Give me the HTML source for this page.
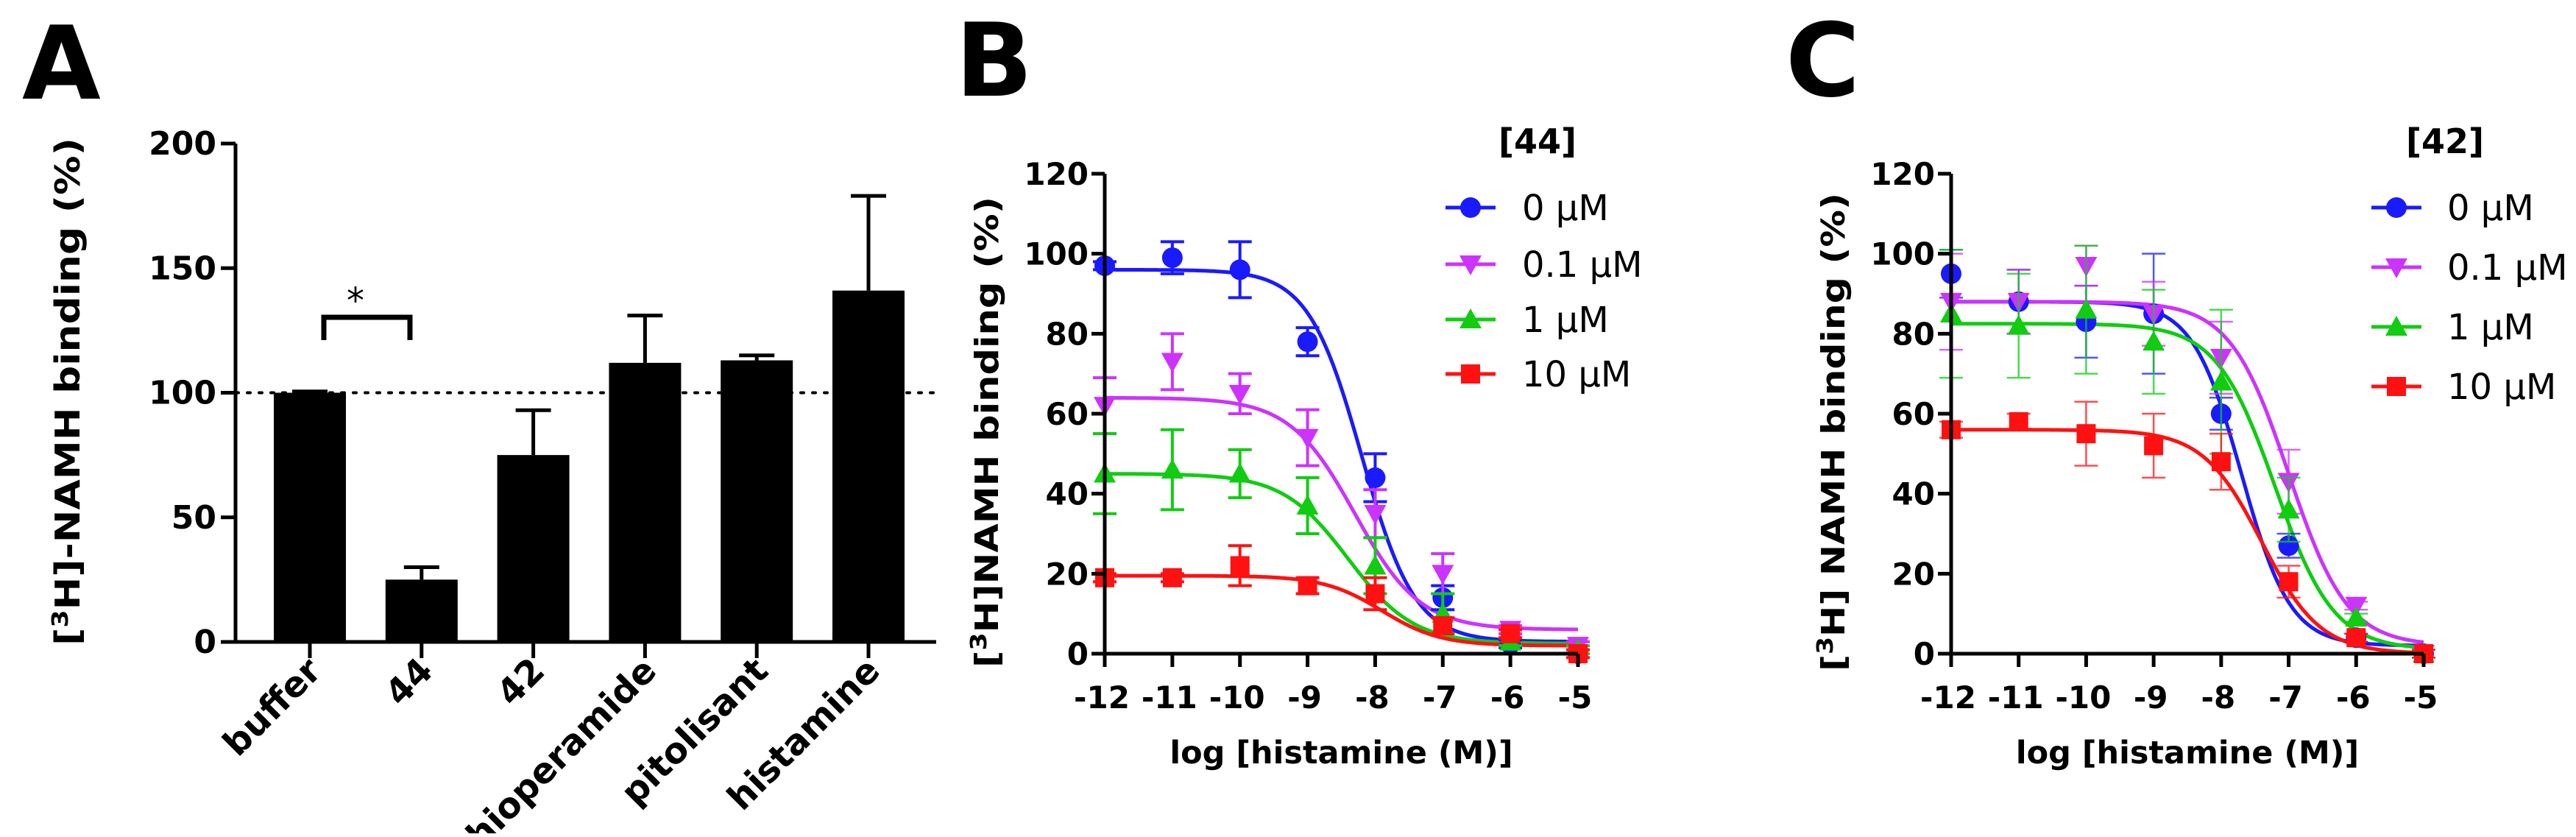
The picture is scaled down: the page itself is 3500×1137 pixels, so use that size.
<!DOCTYPE html>
<html><head><meta charset="utf-8"><style>
html,body{margin:0;padding:0;background:#fff;}
svg text{font-family:"DejaVu Sans","Liberation Sans",sans-serif;}
</style></head><body>
<svg id="fig" width="3500" height="1132" viewBox="0 0 3500 1132" xmlns="http://www.w3.org/2000/svg"></svg>
<script>
// ---------- Panel A data ----------
const barCategories = ["buffer","44","42","thioperamide","pitolisant","histamine"];
const barValues = [100,25,75,112,113,141];
const barErrors = [0.5,5,18,19,2,38];
const barTicks = [0,50,100,150,200];
// ---------- Panel B/C data ----------
const doseX = [-12,-11,-10,-9,-8,-7,-6,-5];
const xTicks = [-12,-11,-10,-9,-8,-7,-6,-5];
const yTicks = [0,20,40,60,80,100,120];
const seriesLabels = ["0 µM","0.1 µM","1 µM","10 µM"];
const B0 = [97,99,96,78,44,14,2.5,0];
const B01 = [62,73,65,54,35,20,6,2];
const B1 = [45,46,45,37,22,10,3,1];
const B10 = [19,19,22,17,15,7,5,0];
const B0err = [1,4,7,3.5,6,3,1,1];
const B01err = [7,7,5,7,6,5,1,1];
const B1err = [10,10,6,7,7,5,1,1];
const B10err = [1,1,5,2,4,2,1,1];
const Bfit0 = [96,3,-8.2,1.1];
const Bfit01 = [64,6,-8.3,0.9];
const Bfit1 = [45,2.5,-8.4,0.9];
const Bfit10 = [19.5,2,-7.9,1];
const C0 = [95,88,83,85,60,27,4,0];
const C01 = [88,88,97,85,74,43,12,0];
const C1 = [85,82,86,78,68,36,9,0];
const C10 = [56,58,55,52,48,18,4,0];
const C0err = [6,8,9,15,4,3,1,1];
const C01err = [12,8,5,8,9,8,1,1];
const C1err = [16,13,16,13,18,8,1,1];
const C10err = [2,2,8,8,7,4,1,1];
const Cfit0 = [88,2,-7.7,1.2];
const Cfit01 = [88,2,-7.0,1];
const Cfit1 = [82.5,1,-7.2,1];
const Cfit10 = [56,0,-7.4,1];

const NS="http://www.w3.org/2000/svg";
const svg=document.getElementById('fig');
function mk(tag,attrs,parent){const e=document.createElementNS(NS,tag);for(const k in attrs)e.setAttribute(k,attrs[k]);(parent||svg).appendChild(e);return e;}
function txt(s,attrs,parent){const e=mk('text',attrs,parent);e.textContent=s;return e;}

let t;
t=txt("A",{x:30,y:134,'font-size':138,'font-weight':'bold'});


t=txt("B",{x:1298,y:130,'font-size':138,'font-weight':'bold'});


t=txt("C",{x:2426,y:130,'font-size':138,'font-weight':'bold'});



// ---------- Panel A ----------
(function(){
  const g=mk('g',{});
  
  
  const x0=320,yb=872,yt=195,xe=1272;
  const ys=v=>yb-(v/200)*(yb-yt);
  const xc=i=>421+i*151.8;
  const dl=mk('line',{x1:x0,x2:xe,y1:ys(100),y2:ys(100),stroke:'#000','stroke-width':4,'stroke-dasharray':'4 12','stroke-linecap':'round'},g);
  
  
  barValues.forEach((v,i)=>{
    const r=mk('rect',{x:xc(i)-49,y:ys(v),width:98,height:yb-ys(v),fill:'#000'},g);
    
    
    const top=ys(v+barErrors[i]);
    const e=mk('path',{d:`M${xc(i)} ${ys(v)} V${top} M${xc(i)-24} ${top} H${xc(i)+24}`,stroke:'#000','stroke-width':5,fill:'none'},g);
    
    
    const tk=mk('line',{x1:xc(i),x2:xc(i),y1:yb,y2:yb+22,stroke:'#000','stroke-width':5},g);
    
    
    const lb=txt(barCategories[i],{x:0,y:0,'font-size':48,'font-weight':'bold','text-anchor':'end',transform:`translate(${xc(i)+18},${yb+42}) rotate(-45)`},g);
    
    
  });
  const ax=mk('path',{d:`M${x0} ${yt} V${yb} M${x0-20} ${yb} H${xe}`,stroke:'#000','stroke-width':5,fill:'none'},g);
  
  
  barTicks.forEach(v=>{
    const l=mk('line',{x1:x0-20,x2:x0,y1:ys(v),y2:ys(v),stroke:'#000','stroke-width':5},g);
    
    
    const tl=txt(String(v),{x:x0-26,y:ys(v)+15,'font-size':44,'font-weight':'bold','text-anchor':'end'},g);
    
    
  });
  const br=mk('path',{d:'M440 462 V431 H557 V462',stroke:'#000','stroke-width':7,fill:'none'},g);
  
  
  const st=txt("*",{x:483,y:425,'font-size':48,'text-anchor':'middle'},g);
  
  
  const yt2=mk('text',{x:0,y:0,'font-size':46,'font-weight':'bold','text-anchor':'middle',transform:'translate(108,532) rotate(-90)',textLength:690,lengthAdjust:'spacingAndGlyphs'},g);
  yt2.innerHTML='[<tspan dy="-16" font-size="30">3</tspan><tspan dy="16">H]-NAMH binding (%)</tspan>';
  
  
})();

// ---------- Dose-response panels ----------
const colors=['#1a1aff','#cc33ff','#11cc11','#ff1111'];
function marker(g,shape,x,y,c){
  let m;
  if(shape===0)m=mk('circle',{cx:x,cy:y,r:14,fill:c},g);
  else if(shape===1)m=mk('polygon',{points:`${x-15},${y-12} ${x+15},${y-12} ${x},${y+15}`,fill:c},g);
  else if(shape===2)m=mk('polygon',{points:`${x-15},${y+12} ${x+15},${y+12} ${x},${y-15}`,fill:c},g);
  else m=mk('rect',{x:x-13,y:y-13,width:26,height:26,fill:c},g);
  return m;
}
function panel(name,ax0,axEnd,title,legX,legTextX,legY,legTitleX,series,errs,fits,ytitle,ytLen,thinErr){
  const g=mk('g',{});
  
  
  const y0=888,y120=236;
  const xs=v=>ax0+(v+12)/7*(axEnd-ax0);
  const ys=v=>y0-v/120*(y0-y120);
  fits.forEach((f,si)=>{
    let d='';
    for(let k=0;k<=280;k++){const x=-12+k*7/280;const y=f[1]+(f[0]-f[1])/(1+Math.pow(10,(x-f[2])*f[3]));d+=(k?'L':'M')+xs(x).toFixed(1)+' '+ys(y).toFixed(1);}
    const p=mk('path',{d:d,stroke:colors[si],'stroke-width':5,fill:'none'},g);
    
    
  });
  series.forEach((s,si)=>{
    s.forEach((v,i)=>{
      const x=xs(doseX[i]),e=errs[si][i];
      const eb=mk('path',{d:`M${x} ${ys(v-e)} V${ys(v+e)} M${x-16} ${ys(v-e)} H${x+16} M${x-16} ${ys(v+e)} H${x+16}`,stroke:colors[si],'stroke-width':thinErr?2.5:4,fill:'none',opacity:thinErr?0.75:1},g);
      
      
      const m=marker(g,si,x,ys(v),colors[si]);
      
      
    });
  });
  const ax=mk('path',{d:`M${ax0} ${y120} V${y0} H${axEnd}`,stroke:'#000','stroke-width':5,fill:'none'},g);
  
  
  yTicks.forEach(v=>{
    const l=mk('line',{x1:ax0-18,x2:ax0,y1:ys(v),y2:ys(v),stroke:'#000','stroke-width':5},g);
    
    
    const tl=txt(String(v),{x:ax0-22,y:ys(v)+15,'font-size':42,'font-weight':'bold','text-anchor':'end'},g);
    
    
  });
  xTicks.forEach(v=>{
    const l=mk('line',{x1:xs(v),x2:xs(v),y1:y0,y2:y0+18,stroke:'#000','stroke-width':5},g);
    
    
    const tl=txt(String(v),{x:xs(v)-4,y:962,'font-size':42,'font-weight':'bold','text-anchor':'middle'},g);
    
    
  });
  const xt=txt('log [histamine (M)]',{x:(ax0+axEnd)/2,y:1037,'font-size':43,'font-weight':'bold','text-anchor':'middle'},g);
  
  
  const yt=mk('text',{x:0,y:0,'font-size':44,'font-weight':'bold','text-anchor':'middle',transform:`translate(${ax0-145},${(y0+y120)/2+25}) rotate(-90)`,textLength:ytLen,lengthAdjust:'spacingAndGlyphs'},g);
  yt.innerHTML='[<tspan dy="-16" font-size="30">3</tspan><tspan dy="16">'+ytitle+'</tspan>';
  
  
  const lt=txt(title,{x:legTitleX,y:208,'font-size':46,'font-weight':'bold','text-anchor':'middle'},g);
  
  
  seriesLabels.forEach((s,si)=>{
    const y=legY[si];
    const lg=mk('g',{},g);
    
    
    mk('line',{x1:legX,x2:legX+68,y1:y,y2:y,stroke:colors[si],'stroke-width':5},lg);
    marker(lg,si,legX+34,y,colors[si]);
    txt(s,{x:legTextX,y:y+17,'font-size':48},lg);
  });
}
panel('panel-b-chart',1501,2144,'[44]',1964,2068,[282,359,434,508],2089,[B0,B01,B1,B10],[B0err,B01err,B1err,B10err],[Bfit0,Bfit01,Bfit1,Bfit10],'H]NAMH binding (%)',640,false);
panel('panel-c-chart',2651,3293,'[42]',3222,3325,[282,363,444,525],3322,[C0,C01,C1,C10],[C0err,C01err,C1err,C10err],[Cfit0,Cfit01,Cfit1,Cfit10],'H] NAMH binding (%)',650,true);
</script>
</body></html>
